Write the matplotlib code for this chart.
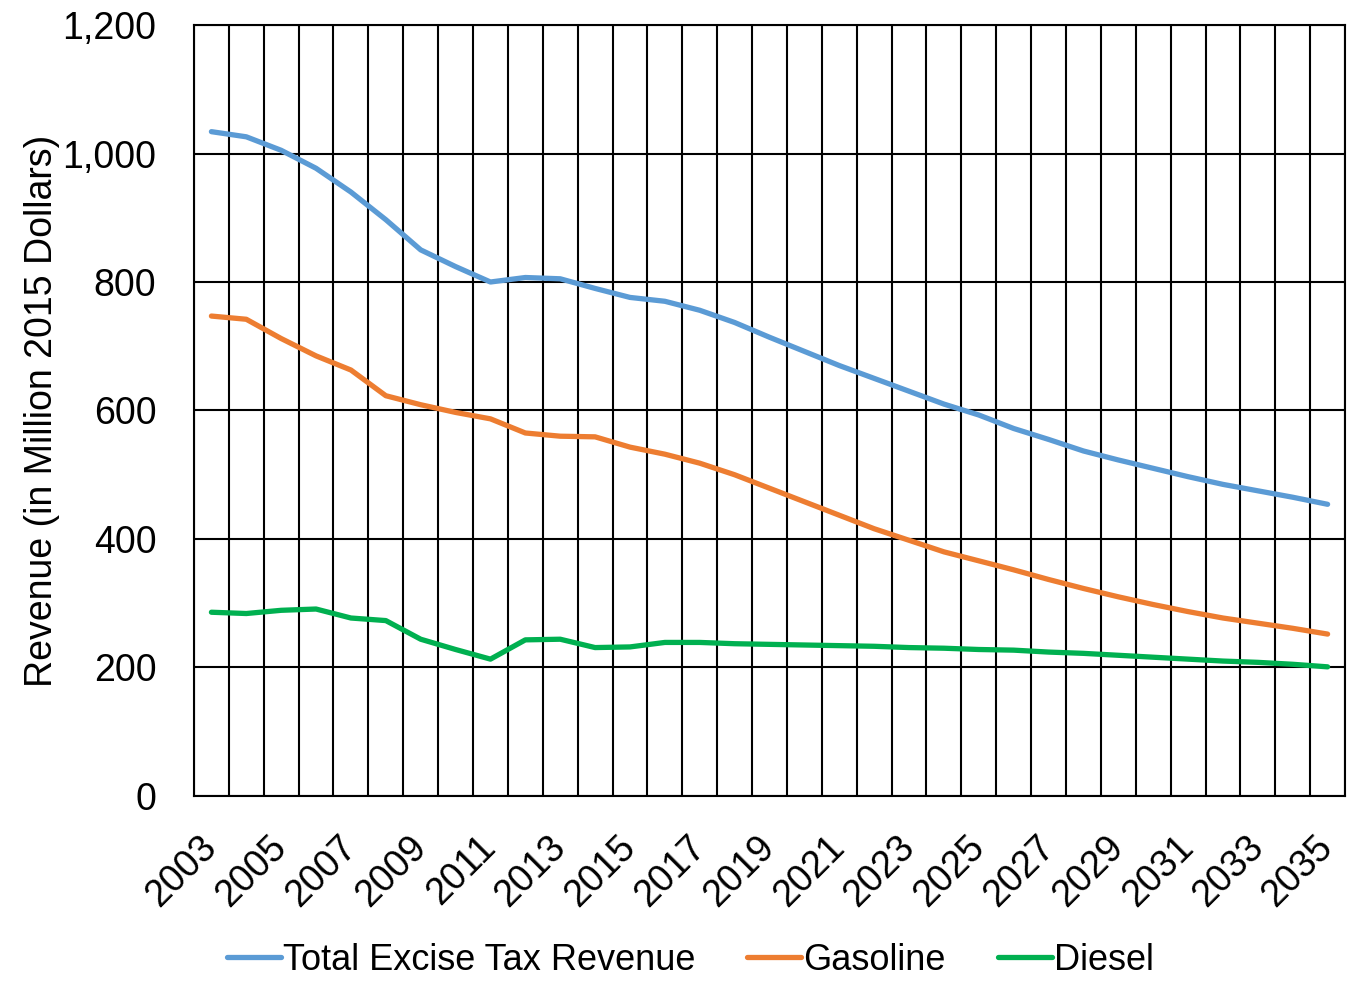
import matplotlib.pyplot as plt
from matplotlib.ticker import FuncFormatter, MultipleLocator
from matplotlib import font_manager

# Excise tax revenue by fuel, 2003-2035 (million 2015 dollars)
years = list(range(2003, 2036))
total = [1034, 1026, 1005, 977, 940, 897, 850, 824, 800, 807, 805,
         790, 776, 770, 756, 737, 714, 692, 670, 650, 630, 610,
         593, 572, 555, 537, 523, 510, 497, 485, 475, 465, 454]
gasoline = [747, 742, 712, 685, 663, 623, 609, 597, 587, 565, 560,
            559, 543, 532, 518, 500, 479, 458, 437, 416, 398, 380,
            366, 352, 337, 323, 310, 298, 287, 277, 269, 261, 252]
diesel = [286, 284, 289, 291, 277, 273, 244, 228, 213, 243, 244,
          231, 232, 239, 239, 237, 236, 235, 234, 233, 231, 230,
          228, 227, 224, 222, 219, 216, 213, 210, 208, 205, 201]
series_names = ['Total Excise Tax Revenue', 'Gasoline', 'Diesel']
colors = ['#5B9BD5', '#ED7D31', '#00B050']

installed = {f.name for f in font_manager.fontManager.ttflist}
family = 'Liberation Sans Narrow' if 'Liberation Sans Narrow' in installed else 'Liberation Sans'
plt.rcParams['font.family'] = [family, 'DejaVu Sans']
fs = 27

fig = plt.figure(figsize=(13.48, 9.81), dpi=100)
ax = fig.add_axes([0.1439, 0.1886, 0.8539, 0.7859])

x = list(range(len(years)))
for vals, name, c in zip([total, gasoline, diesel], series_names, colors):
    ax.plot(x, vals, color=c, lw=3.8, label=name, solid_capstyle='round',
            solid_joinstyle='round', zorder=3)

ax.set_xlim(-0.5, len(years) - 0.5)
ax.set_ylim(0, 1200)
ax.yaxis.set_major_locator(MultipleLocator(200))
ax.yaxis.set_major_formatter(FuncFormatter(lambda v, p: f'{int(v):,}'))

# category labels every other year, gridlines between categories
ax.set_xticks(x[::2])
ax.set_xticklabels([str(y) for y in years[::2]], rotation=45, ha='right',
                   va='center', rotation_mode='anchor')
ax.set_xticks([i - 0.5 for i in range(len(years) + 1)], minor=True)
ax.grid(which='minor', axis='x', color='black', lw=1.5)
ax.grid(which='major', axis='y', color='black', lw=1.5)
ax.tick_params(axis='x', which='both', length=0)
ax.tick_params(axis='x', which='major', labelsize=fs, pad=33)
ax.tick_params(axis='y', length=0, labelsize=fs, pad=27)
for s in ax.spines.values():
    s.set_color('black')
    s.set_linewidth(1.5)

ax.set_ylabel('Revenue (in Million 2015 Dollars)', fontsize=fs, labelpad=2)

fig.legend(loc='center', bbox_to_anchor=(0.512, 0.021), ncol=3,
           frameon=False, fontsize=26, handlelength=1.5, handletextpad=0.05,
           columnspacing=1.45, borderaxespad=0)

fig.savefig('out.png', dpi=100)
